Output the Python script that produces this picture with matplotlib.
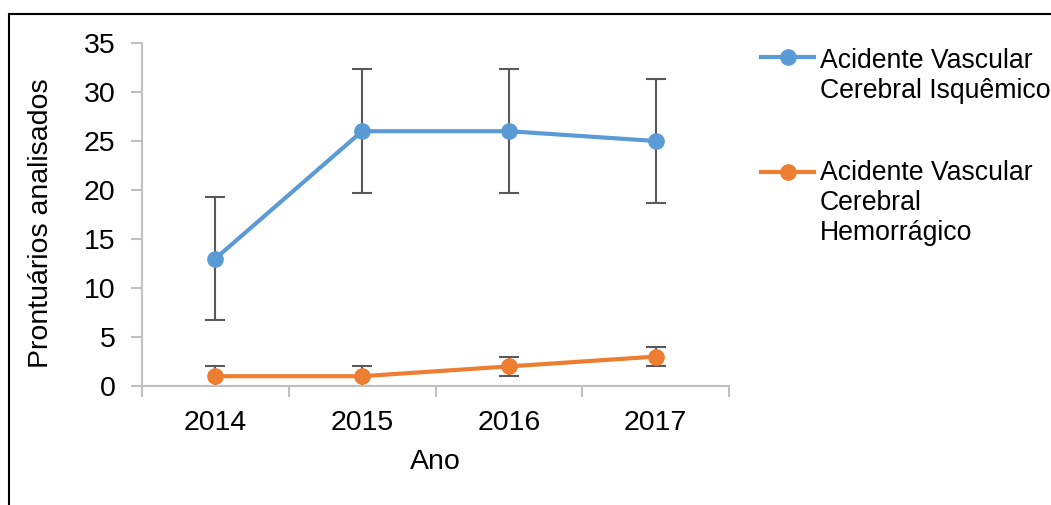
import numpy as np
import matplotlib.pyplot as plt
from matplotlib.patches import Rectangle
from matplotlib.legend_handler import HandlerLine2D

plt.rcParams["font.family"] = ["Liberation Sans", "DejaVu Sans"]

anos = ["2014", "2015", "2016", "2017"]
isquemico = [13, 26, 26, 25]
isquemico_err = [6.3, 6.3, 6.3, 6.3]
hemorragico = [1, 1, 2, 3]
hemorragico_err = [1, 1, 1, 1]
labels = ["Acidente Vascular\nCerebral Isquêmico",
          "Acidente Vascular\nCerebral\nHemorrágico"]


class FirstLineHandler(HandlerLine2D):
    # put the legend marker next to the first line of a multi-line label
    def __init__(self, shift, **kw):
        super().__init__(**kw)
        self.shift = shift

    def create_artists(self, *args, **kw):
        arts = super().create_artists(*args, **kw)
        for a in arts:
            a.set_ydata(np.asarray(a.get_ydata()) + self.shift)
        return arts


W, H = 1051, 505
fig = plt.figure(figsize=(W / 100, H / 100), dpi=100)
ax = fig.add_axes([142 / W, 1 - 386 / H, (729 - 142) / W, (386 - 43) / H])

x = list(range(len(anos)))
blue = "#5B9BD5"
orange = "#ED7D31"
lines = []
for y, e, c, lab in [(isquemico, isquemico_err, blue, labels[0]),
                     (hemorragico, hemorragico_err, orange, labels[1])]:
    ax.errorbar(x, y, yerr=e, fmt="none", ecolor="#595959", elinewidth=1.5,
                capsize=7, capthick=1.5, zorder=2)
    ln, = ax.plot(x, y, color=c, lw=3, marker="o", ms=11, label=lab, zorder=3)
    lines.append(ln)

ax.set_xlim(-0.5, 3.5)
ax.set_ylim(0, 35)
ax.set_yticks(range(0, 36, 5))
ax.set_xticks([-0.5, 0.5, 1.5, 2.5, 3.5])
ax.set_xticklabels([])
ax.set_xticks(x, minor=True)
ax.set_xticklabels(anos, minor=True)
ax.tick_params(axis="x", which="minor", length=0, pad=17)
ax.tick_params(axis="both", which="major", length=8, color="#BFBFBF", width=1.5)
ax.tick_params(axis="y", pad=11)
ax.tick_params(which="both", labelsize=20.5)
for s in ["top", "right"]:
    ax.spines[s].set_visible(False)
for s in ["left", "bottom"]:
    ax.spines[s].set_color("#BFBFBF")
    ax.spines[s].set_linewidth(1.5)

ax.set_xlabel("Ano", fontsize=20.5, labelpad=9.5)
ax.set_ylabel("Prontuários analisados", fontsize=20.5)
ax.yaxis.set_label_coords(-0.15, 0.474)

ax.legend(loc="upper left", bbox_to_anchor=(737 / W, 1 - 24 / H),
          bbox_transform=fig.transFigure, frameon=False, fontsize=19.2,
          handlelength=2.0, handletextpad=0.2, labelspacing=2.1,
          handler_map={lines[0]: FirstLineHandler(14.0),
                       lines[1]: FirstLineHandler(22.5)})

fig.patches.append(Rectangle((9 / W, -0.05), 1.1, 1 - 14 / H + 0.05,
                             transform=fig.transFigure, fill=False,
                             edgecolor="black", lw=1.5, clip_on=False))

fig.savefig("out.png", dpi=100)
